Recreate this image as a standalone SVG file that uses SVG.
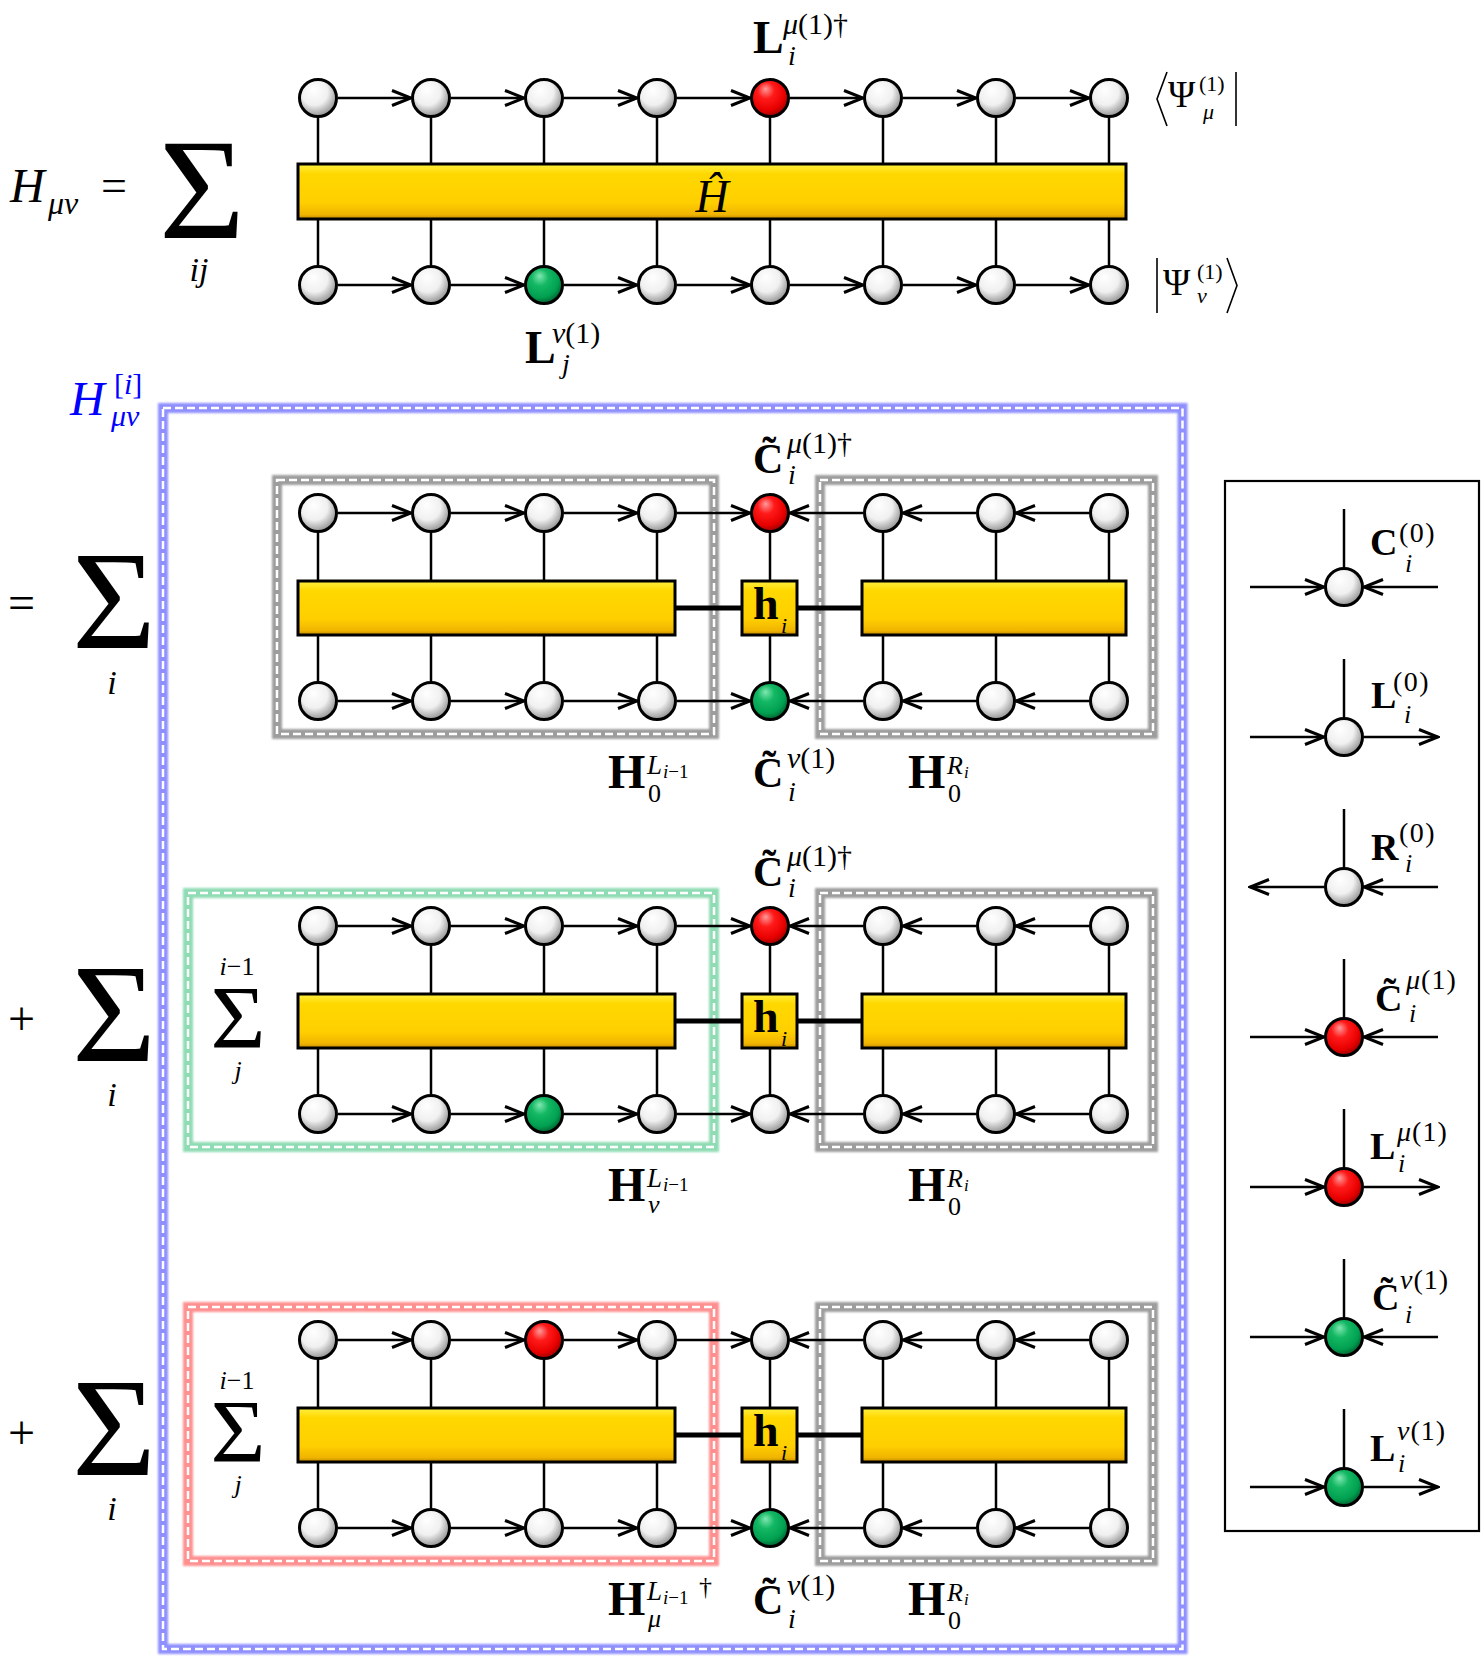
<svg xmlns="http://www.w3.org/2000/svg" width="1481" height="1664" viewBox="0 0 1481 1664">
<style>
.s{font-family:"Liberation Serif","Times New Roman",serif;fill:#000}
.b{font-weight:bold}
.i{font-style:italic}
.n{font-style:normal}
.bl{fill:#0000ff}
.nw{fill:url(#gw);stroke:#000;stroke-width:3}
.nr{fill:url(#gr);stroke:#000;stroke-width:3}
.ng{fill:url(#gg);stroke:#000;stroke-width:3}
.bar{fill:url(#gy);stroke:#000;stroke-width:3}
.ln{stroke:#000;stroke-width:2.5;fill:none}
.ar{stroke:#000;stroke-width:2.5;fill:none;marker-end:url(#ah)}
.thk{stroke:#000;stroke-width:5}
.band{fill:none;stroke-width:10;filter:url(#glow)}
.dash{fill:none;stroke:#fff;stroke-width:2.5;stroke-dasharray:8 4}
.gray{stroke:#9d9d9d}
.grn{stroke:#8fdcb4}
.red{stroke:#ff9090}
.blu{stroke:#8f8fff}
.brk{fill:none;stroke:#000;stroke-width:1.6}
</style>
<defs>
<radialGradient id="gw" cx="0.42" cy="0.38" r="0.65" fx="0.38" fy="0.28">
<stop offset="0" stop-color="#ffffff"/>
<stop offset="0.55" stop-color="#f0f0f0"/>
<stop offset="1" stop-color="#8c8c8c"/>
</radialGradient>
<radialGradient id="gr" cx="0.42" cy="0.38" r="0.65" fx="0.38" fy="0.25">
<stop offset="0" stop-color="#ff9a9a"/>
<stop offset="0.35" stop-color="#ff1a1a"/>
<stop offset="0.75" stop-color="#e80000"/>
<stop offset="1" stop-color="#900000"/>
</radialGradient>
<radialGradient id="gg" cx="0.42" cy="0.38" r="0.65" fx="0.38" fy="0.25">
<stop offset="0" stop-color="#7fe8b0"/>
<stop offset="0.35" stop-color="#14b864"/>
<stop offset="0.75" stop-color="#00a050"/>
<stop offset="1" stop-color="#005a2c"/>
</radialGradient>
<linearGradient id="gy" x1="0" y1="0" x2="0" y2="1">
<stop offset="0" stop-color="#fff040"/>
<stop offset="0.18" stop-color="#ffd800"/>
<stop offset="0.7" stop-color="#ffcf00"/>
<stop offset="0.92" stop-color="#f0b400"/>
<stop offset="1" stop-color="#c08800"/>
</linearGradient>
<filter id="glow" x="-5%" y="-5%" width="110%" height="110%">
<feGaussianBlur stdDeviation="1.3"/>
</filter>
<marker id="ah" viewBox="0 0 22 18" refX="20" refY="9" markerWidth="22" markerHeight="18" orient="auto" markerUnits="userSpaceOnUse">
<path d="M1,1.5 L20,9 L1,16.5" fill="none" stroke="#000" stroke-width="3"/>
</marker>
</defs>
<rect x="0" y="0" width="1481" height="1664" fill="#fff"/>

<!-- frames -->
<g id="frames">
<g id="frame-Hi">
<rect class="band blu" x="163" y="408" width="1019.5" height="1241"/>
<rect class="dash" x="163" y="408" width="1019.5" height="1241"/>
</g>
<g id="frame-b1-left"><rect class="band gray" x="277" y="480" width="437" height="254"/><rect class="dash" x="277" y="480" width="437" height="254"/></g>
<g id="frame-b1-right"><rect class="band gray" x="820" y="480" width="333" height="254"/><rect class="dash" x="820" y="480" width="333" height="254"/></g>
<g id="frame-b2-left"><rect class="band grn" x="188" y="893" width="526" height="254"/><rect class="dash" x="188" y="893" width="526" height="254"/></g>
<g id="frame-b2-right"><rect class="band gray" x="820" y="893" width="333" height="254"/><rect class="dash" x="820" y="893" width="333" height="254"/></g>
<g id="frame-b3-left"><rect class="band red" x="188" y="1307" width="526" height="254"/><rect class="dash" x="188" y="1307" width="526" height="254"/></g>
<g id="frame-b3-right"><rect class="band gray" x="820" y="1307" width="333" height="254"/><rect class="dash" x="820" y="1307" width="333" height="254"/></g>
<g id="legend-frame"><rect x="1225" y="481" width="254" height="1050" fill="none" stroke="#000" stroke-width="2.2"/></g>
</g>

<!-- connectors -->
<g id="connectors">
<!-- top section -->
<line class="ln" x1="318" y1="98" x2="318" y2="285"/>
<line class="ln" x1="431" y1="98" x2="431" y2="285"/>
<line class="ln" x1="544" y1="98" x2="544" y2="285"/>
<line class="ln" x1="657" y1="98" x2="657" y2="285"/>
<line class="ln" x1="770" y1="98" x2="770" y2="285"/>
<line class="ln" x1="883" y1="98" x2="883" y2="285"/>
<line class="ln" x1="996" y1="98" x2="996" y2="285"/>
<line class="ln" x1="1109" y1="98" x2="1109" y2="285"/>
<line class="ar" x1="338" y1="98" x2="411" y2="98"/>
<line class="ar" x1="451" y1="98" x2="524" y2="98"/>
<line class="ar" x1="564" y1="98" x2="637" y2="98"/>
<line class="ar" x1="677" y1="98" x2="750" y2="98"/>
<line class="ar" x1="790" y1="98" x2="863" y2="98"/>
<line class="ar" x1="903" y1="98" x2="976" y2="98"/>
<line class="ar" x1="1016" y1="98" x2="1089" y2="98"/>
<line class="ar" x1="338" y1="285" x2="411" y2="285"/>
<line class="ar" x1="451" y1="285" x2="524" y2="285"/>
<line class="ar" x1="564" y1="285" x2="637" y2="285"/>
<line class="ar" x1="677" y1="285" x2="750" y2="285"/>
<line class="ar" x1="790" y1="285" x2="863" y2="285"/>
<line class="ar" x1="903" y1="285" x2="976" y2="285"/>
<line class="ar" x1="1016" y1="285" x2="1089" y2="285"/>

<!-- block 1 (ty 513, by 701) -->
<line class="ln" x1="318" y1="513" x2="318" y2="701"/>
<line class="ln" x1="431" y1="513" x2="431" y2="701"/>
<line class="ln" x1="544" y1="513" x2="544" y2="701"/>
<line class="ln" x1="657" y1="513" x2="657" y2="701"/>
<line class="ln" x1="770" y1="513" x2="770" y2="701"/>
<line class="ln" x1="883" y1="513" x2="883" y2="701"/>
<line class="ln" x1="996" y1="513" x2="996" y2="701"/>
<line class="ln" x1="1109" y1="513" x2="1109" y2="701"/>
<line class="thk" x1="675" y1="608" x2="742" y2="608"/>
<line class="thk" x1="797" y1="608" x2="862" y2="608"/>
<line class="ar" x1="338" y1="513" x2="411" y2="513"/>
<line class="ar" x1="451" y1="513" x2="524" y2="513"/>
<line class="ar" x1="564" y1="513" x2="637" y2="513"/>
<line class="ar" x1="677" y1="513" x2="750" y2="513"/>
<line class="ar" x1="1089" y1="513" x2="1016" y2="513"/>
<line class="ar" x1="976" y1="513" x2="903" y2="513"/>
<line class="ar" x1="863" y1="513" x2="790" y2="513"/>
<line class="ar" x1="338" y1="701" x2="411" y2="701"/>
<line class="ar" x1="451" y1="701" x2="524" y2="701"/>
<line class="ar" x1="564" y1="701" x2="637" y2="701"/>
<line class="ar" x1="677" y1="701" x2="750" y2="701"/>
<line class="ar" x1="1089" y1="701" x2="1016" y2="701"/>
<line class="ar" x1="976" y1="701" x2="903" y2="701"/>
<line class="ar" x1="863" y1="701" x2="790" y2="701"/>

<!-- block 2 (ty 926, by 1114) -->
<line class="ln" x1="318" y1="926" x2="318" y2="1114"/>
<line class="ln" x1="431" y1="926" x2="431" y2="1114"/>
<line class="ln" x1="544" y1="926" x2="544" y2="1114"/>
<line class="ln" x1="657" y1="926" x2="657" y2="1114"/>
<line class="ln" x1="770" y1="926" x2="770" y2="1114"/>
<line class="ln" x1="883" y1="926" x2="883" y2="1114"/>
<line class="ln" x1="996" y1="926" x2="996" y2="1114"/>
<line class="ln" x1="1109" y1="926" x2="1109" y2="1114"/>
<line class="thk" x1="675" y1="1021" x2="742" y2="1021"/>
<line class="thk" x1="797" y1="1021" x2="862" y2="1021"/>
<line class="ar" x1="338" y1="926" x2="411" y2="926"/>
<line class="ar" x1="451" y1="926" x2="524" y2="926"/>
<line class="ar" x1="564" y1="926" x2="637" y2="926"/>
<line class="ar" x1="677" y1="926" x2="750" y2="926"/>
<line class="ar" x1="1089" y1="926" x2="1016" y2="926"/>
<line class="ar" x1="976" y1="926" x2="903" y2="926"/>
<line class="ar" x1="863" y1="926" x2="790" y2="926"/>
<line class="ar" x1="338" y1="1114" x2="411" y2="1114"/>
<line class="ar" x1="451" y1="1114" x2="524" y2="1114"/>
<line class="ar" x1="564" y1="1114" x2="637" y2="1114"/>
<line class="ar" x1="677" y1="1114" x2="750" y2="1114"/>
<line class="ar" x1="1089" y1="1114" x2="1016" y2="1114"/>
<line class="ar" x1="976" y1="1114" x2="903" y2="1114"/>
<line class="ar" x1="863" y1="1114" x2="790" y2="1114"/>

<!-- block 3 (ty 1340, by 1528) -->
<line class="ln" x1="318" y1="1340" x2="318" y2="1528"/>
<line class="ln" x1="431" y1="1340" x2="431" y2="1528"/>
<line class="ln" x1="544" y1="1340" x2="544" y2="1528"/>
<line class="ln" x1="657" y1="1340" x2="657" y2="1528"/>
<line class="ln" x1="770" y1="1340" x2="770" y2="1528"/>
<line class="ln" x1="883" y1="1340" x2="883" y2="1528"/>
<line class="ln" x1="996" y1="1340" x2="996" y2="1528"/>
<line class="ln" x1="1109" y1="1340" x2="1109" y2="1528"/>
<line class="thk" x1="675" y1="1435" x2="742" y2="1435"/>
<line class="thk" x1="797" y1="1435" x2="862" y2="1435"/>
<line class="ar" x1="338" y1="1340" x2="411" y2="1340"/>
<line class="ar" x1="451" y1="1340" x2="524" y2="1340"/>
<line class="ar" x1="564" y1="1340" x2="637" y2="1340"/>
<line class="ar" x1="677" y1="1340" x2="750" y2="1340"/>
<line class="ar" x1="1089" y1="1340" x2="1016" y2="1340"/>
<line class="ar" x1="976" y1="1340" x2="903" y2="1340"/>
<line class="ar" x1="863" y1="1340" x2="790" y2="1340"/>
<line class="ar" x1="338" y1="1528" x2="411" y2="1528"/>
<line class="ar" x1="451" y1="1528" x2="524" y2="1528"/>
<line class="ar" x1="564" y1="1528" x2="637" y2="1528"/>
<line class="ar" x1="677" y1="1528" x2="750" y2="1528"/>
<line class="ar" x1="1089" y1="1528" x2="1016" y2="1528"/>
<line class="ar" x1="976" y1="1528" x2="903" y2="1528"/>
<line class="ar" x1="863" y1="1528" x2="790" y2="1528"/>

<!-- legend -->
<line class="ln" x1="1344" y1="509" x2="1344" y2="567"/>
<line class="ar" x1="1250" y1="587" x2="1324" y2="587"/>
<line class="ar" x1="1438" y1="587" x2="1364" y2="587"/>
<line class="ln" x1="1344" y1="659" x2="1344" y2="717"/>
<line class="ar" x1="1250" y1="737" x2="1324" y2="737"/>
<line class="ar" x1="1364" y1="737" x2="1438" y2="737"/>
<line class="ln" x1="1344" y1="809" x2="1344" y2="867"/>
<line class="ar" x1="1324" y1="887" x2="1250" y2="887"/>
<line class="ar" x1="1438" y1="887" x2="1364" y2="887"/>
<line class="ln" x1="1344" y1="959" x2="1344" y2="1017"/>
<line class="ar" x1="1250" y1="1037" x2="1324" y2="1037"/>
<line class="ar" x1="1438" y1="1037" x2="1364" y2="1037"/>
<line class="ln" x1="1344" y1="1109" x2="1344" y2="1167"/>
<line class="ar" x1="1250" y1="1187" x2="1324" y2="1187"/>
<line class="ar" x1="1364" y1="1187" x2="1438" y2="1187"/>
<line class="ln" x1="1344" y1="1259" x2="1344" y2="1317"/>
<line class="ar" x1="1250" y1="1337" x2="1324" y2="1337"/>
<line class="ar" x1="1438" y1="1337" x2="1364" y2="1337"/>
<line class="ln" x1="1344" y1="1409" x2="1344" y2="1467"/>
<line class="ar" x1="1250" y1="1487" x2="1324" y2="1487"/>
<line class="ar" x1="1364" y1="1487" x2="1438" y2="1487"/>
</g>

<!-- top section nodes -->
<g id="H-hat-bar"><rect class="bar" x="298" y="164" width="828" height="55"/><text class="s i" x="712" y="212" font-size="46" text-anchor="middle">Ĥ</text></g>
<g id="top-t1"><circle class="nw" cx="318" cy="98" r="18.5"/></g>
<g id="top-t2"><circle class="nw" cx="431" cy="98" r="18.5"/></g>
<g id="top-t3"><circle class="nw" cx="544" cy="98" r="18.5"/></g>
<g id="top-t4"><circle class="nw" cx="657" cy="98" r="18.5"/></g>
<g id="top-t5"><circle class="nr" cx="770" cy="98" r="18.5"/></g>
<g id="top-t6"><circle class="nw" cx="883" cy="98" r="18.5"/></g>
<g id="top-t7"><circle class="nw" cx="996" cy="98" r="18.5"/></g>
<g id="top-t8"><circle class="nw" cx="1109" cy="98" r="18.5"/></g>
<g id="top-b1"><circle class="nw" cx="318" cy="285" r="18.5"/></g>
<g id="top-b2"><circle class="nw" cx="431" cy="285" r="18.5"/></g>
<g id="top-b3"><circle class="ng" cx="544" cy="285" r="18.5"/></g>
<g id="top-b4"><circle class="nw" cx="657" cy="285" r="18.5"/></g>
<g id="top-b5"><circle class="nw" cx="770" cy="285" r="18.5"/></g>
<g id="top-b6"><circle class="nw" cx="883" cy="285" r="18.5"/></g>
<g id="top-b7"><circle class="nw" cx="996" cy="285" r="18.5"/></g>
<g id="top-b8"><circle class="nw" cx="1109" cy="285" r="18.5"/></g>

<!-- block 1 -->
<g id="b1-barL"><rect class="bar" x="298" y="581" width="377" height="54"/></g>
<g id="b1-h"><rect class="bar" x="742" y="581" width="55" height="54"/><text class="s b" x="753" y="619" font-size="46">h</text><text class="s i" x="781" y="633" font-size="22">i</text></g>
<g id="b1-barR"><rect class="bar" x="862" y="581" width="264" height="54"/></g>
<g id="b1-t1"><circle class="nw" cx="318" cy="513" r="18.5"/></g>
<g id="b1-t2"><circle class="nw" cx="431" cy="513" r="18.5"/></g>
<g id="b1-t3"><circle class="nw" cx="544" cy="513" r="18.5"/></g>
<g id="b1-t4"><circle class="nw" cx="657" cy="513" r="18.5"/></g>
<g id="b1-t5"><circle class="nr" cx="770" cy="513" r="18.5"/></g>
<g id="b1-t6"><circle class="nw" cx="883" cy="513" r="18.5"/></g>
<g id="b1-t7"><circle class="nw" cx="996" cy="513" r="18.5"/></g>
<g id="b1-t8"><circle class="nw" cx="1109" cy="513" r="18.5"/></g>
<g id="b1-b1"><circle class="nw" cx="318" cy="701" r="18.5"/></g>
<g id="b1-b2"><circle class="nw" cx="431" cy="701" r="18.5"/></g>
<g id="b1-b3"><circle class="nw" cx="544" cy="701" r="18.5"/></g>
<g id="b1-b4"><circle class="nw" cx="657" cy="701" r="18.5"/></g>
<g id="b1-b5"><circle class="ng" cx="770" cy="701" r="18.5"/></g>
<g id="b1-b6"><circle class="nw" cx="883" cy="701" r="18.5"/></g>
<g id="b1-b7"><circle class="nw" cx="996" cy="701" r="18.5"/></g>
<g id="b1-b8"><circle class="nw" cx="1109" cy="701" r="18.5"/></g>

<!-- block 2 -->
<g id="b2-barL"><rect class="bar" x="298" y="994" width="377" height="54"/></g>
<g id="b2-h"><rect class="bar" x="742" y="994" width="55" height="54"/><text class="s b" x="753" y="1032" font-size="46">h</text><text class="s i" x="781" y="1046" font-size="22">i</text></g>
<g id="b2-barR"><rect class="bar" x="862" y="994" width="264" height="54"/></g>
<g id="b2-t1"><circle class="nw" cx="318" cy="926" r="18.5"/></g>
<g id="b2-t2"><circle class="nw" cx="431" cy="926" r="18.5"/></g>
<g id="b2-t3"><circle class="nw" cx="544" cy="926" r="18.5"/></g>
<g id="b2-t4"><circle class="nw" cx="657" cy="926" r="18.5"/></g>
<g id="b2-t5"><circle class="nr" cx="770" cy="926" r="18.5"/></g>
<g id="b2-t6"><circle class="nw" cx="883" cy="926" r="18.5"/></g>
<g id="b2-t7"><circle class="nw" cx="996" cy="926" r="18.5"/></g>
<g id="b2-t8"><circle class="nw" cx="1109" cy="926" r="18.5"/></g>
<g id="b2-b1"><circle class="nw" cx="318" cy="1114" r="18.5"/></g>
<g id="b2-b2"><circle class="nw" cx="431" cy="1114" r="18.5"/></g>
<g id="b2-b3"><circle class="ng" cx="544" cy="1114" r="18.5"/></g>
<g id="b2-b4"><circle class="nw" cx="657" cy="1114" r="18.5"/></g>
<g id="b2-b5"><circle class="nw" cx="770" cy="1114" r="18.5"/></g>
<g id="b2-b6"><circle class="nw" cx="883" cy="1114" r="18.5"/></g>
<g id="b2-b7"><circle class="nw" cx="996" cy="1114" r="18.5"/></g>
<g id="b2-b8"><circle class="nw" cx="1109" cy="1114" r="18.5"/></g>

<!-- block 3 -->
<g id="b3-barL"><rect class="bar" x="298" y="1408" width="377" height="54"/></g>
<g id="b3-h"><rect class="bar" x="742" y="1408" width="55" height="54"/><text class="s b" x="753" y="1446" font-size="46">h</text><text class="s i" x="781" y="1460" font-size="22">i</text></g>
<g id="b3-barR"><rect class="bar" x="862" y="1408" width="264" height="54"/></g>
<g id="b3-t1"><circle class="nw" cx="318" cy="1340" r="18.5"/></g>
<g id="b3-t2"><circle class="nw" cx="431" cy="1340" r="18.5"/></g>
<g id="b3-t3"><circle class="nr" cx="544" cy="1340" r="18.5"/></g>
<g id="b3-t4"><circle class="nw" cx="657" cy="1340" r="18.5"/></g>
<g id="b3-t5"><circle class="nw" cx="770" cy="1340" r="18.5"/></g>
<g id="b3-t6"><circle class="nw" cx="883" cy="1340" r="18.5"/></g>
<g id="b3-t7"><circle class="nw" cx="996" cy="1340" r="18.5"/></g>
<g id="b3-t8"><circle class="nw" cx="1109" cy="1340" r="18.5"/></g>
<g id="b3-b1"><circle class="nw" cx="318" cy="1528" r="18.5"/></g>
<g id="b3-b2"><circle class="nw" cx="431" cy="1528" r="18.5"/></g>
<g id="b3-b3"><circle class="nw" cx="544" cy="1528" r="18.5"/></g>
<g id="b3-b4"><circle class="nw" cx="657" cy="1528" r="18.5"/></g>
<g id="b3-b5"><circle class="ng" cx="770" cy="1528" r="18.5"/></g>
<g id="b3-b6"><circle class="nw" cx="883" cy="1528" r="18.5"/></g>
<g id="b3-b7"><circle class="nw" cx="996" cy="1528" r="18.5"/></g>
<g id="b3-b8"><circle class="nw" cx="1109" cy="1528" r="18.5"/></g>

<!-- legend nodes -->
<g id="lg-C0"><circle class="nw" cx="1344" cy="587" r="18.5"/>
<text class="s b" x="1370" y="555" font-size="38">C</text><text class="s" x="1399" y="542" font-size="28" letter-spacing="1.5">(0)</text><text class="s i" x="1405" y="572" font-size="26">i</text></g>
<g id="lg-L0"><circle class="nw" cx="1344" cy="737" r="18.5"/>
<text class="s b" x="1371" y="708" font-size="38">L</text><text class="s" x="1393" y="691" font-size="28" letter-spacing="1.5">(0)</text><text class="s i" x="1404" y="723" font-size="26">i</text></g>
<g id="lg-R0"><circle class="nw" cx="1344" cy="887" r="18.5"/>
<text class="s b" x="1371" y="860" font-size="38">R</text><text class="s" x="1399" y="842" font-size="28" letter-spacing="1.5">(0)</text><text class="s i" x="1405" y="872" font-size="26">i</text></g>
<g id="lg-Cmu"><circle class="nr" cx="1344" cy="1037" r="18.5"/>
<text class="s b" x="1375" y="1011" font-size="38">C̃</text><text class="s" x="1406" y="989" font-size="28" letter-spacing="1"><tspan class="i">μ</tspan>(1)</text><text class="s i" x="1409" y="1022" font-size="26">i</text></g>
<g id="lg-Lmu"><circle class="nr" cx="1344" cy="1187" r="18.5"/>
<text class="s b" x="1370" y="1159" font-size="38">L</text><text class="s" x="1397" y="1141" font-size="28" letter-spacing="1"><tspan class="i">μ</tspan>(1)</text><text class="s i" x="1398" y="1172" font-size="26">i</text></g>
<g id="lg-Cnu"><circle class="ng" cx="1344" cy="1337" r="18.5"/>
<text class="s b" x="1372" y="1310" font-size="38">C̃</text><text class="s" x="1400" y="1289" font-size="28" letter-spacing="1"><tspan class="i">ν</tspan>(1)</text><text class="s i" x="1405" y="1323" font-size="26">i</text></g>
<g id="lg-Lnu"><circle class="ng" cx="1344" cy="1487" r="18.5"/>
<text class="s b" x="1370" y="1461" font-size="38">L</text><text class="s" x="1397" y="1440" font-size="28" letter-spacing="1"><tspan class="i">ν</tspan>(1)</text><text class="s i" x="1398" y="1472" font-size="26">i</text></g>

<!-- labels -->
<g id="labels">
<!-- top equation -->
<text class="s i" x="10" y="202" font-size="48">H</text>
<text class="s i" x="48" y="214" font-size="32">μν</text>
<text class="s" x="101" y="201" font-size="46">=</text>
<text class="s" x="159" y="238" font-size="143" textLength="86" lengthAdjust="spacingAndGlyphs">Σ</text>
<text class="s i" x="199" y="281" font-size="34" text-anchor="middle">ij</text>
<text class="s b" x="753" y="53" font-size="46">L</text>
<text class="s" x="783" y="34" font-size="30"><tspan class="i">μ</tspan>(1)†</text>
<text class="s i" x="788" y="65" font-size="28">i</text>
<text class="s b" x="525" y="363" font-size="46">L</text>
<text class="s" x="552" y="343" font-size="30"><tspan class="i">ν</tspan>(1)</text>
<text class="s i" x="562" y="373" font-size="28">j</text>
<!-- bra / ket -->
<polyline class="brk" points="1167,72 1157,99 1167,126"/>
<line class="brk" x1="1236" y1="72" x2="1236" y2="126"/>
<text class="s" x="1168" y="107" font-size="37">Ψ</text>
<text class="s" x="1199" y="91" font-size="22">(1)</text>
<text class="s i" x="1203" y="119" font-size="22">μ</text>
<line class="brk" x1="1157" y1="258" x2="1157" y2="313"/>
<polyline class="brk" points="1227,258 1237,285.5 1227,313"/>
<text class="s" x="1163" y="295" font-size="37">Ψ</text>
<text class="s" x="1197" y="279" font-size="22">(1)</text>
<text class="s i" x="1197" y="303" font-size="22">ν</text>
<!-- H^[i] label -->
<text class="s i bl" x="70" y="415" font-size="48">H</text>
<text class="s bl" x="114" y="394" font-size="30">[<tspan class="i">i</tspan>]</text>
<text class="s i bl" x="111" y="426" font-size="30">μν</text>

<!-- block 1 labels -->
<text class="s" x="8" y="619" font-size="48">=</text>
<text class="s" x="72" y="648" font-size="140" textLength="84" lengthAdjust="spacingAndGlyphs">Σ</text>
<text class="s i" x="112" y="694" font-size="34" text-anchor="middle">i</text>
<text class="s b" x="753" y="473" font-size="42">C̃</text>
<text class="s" x="787" y="453" font-size="30"><tspan class="i">μ</tspan>(1)†</text>
<text class="s i" x="788" y="484" font-size="28">i</text>
<text class="s b" x="753" y="787" font-size="42">C̃</text>
<text class="s" x="787" y="768" font-size="30"><tspan class="i">ν</tspan>(1)</text>
<text class="s i" x="788" y="801" font-size="28">i</text>
<text class="s b" x="608" y="788" font-size="48">H</text>
<text class="s i" x="647" y="774" font-size="27">L</text>
<text class="s" x="663" y="778" font-size="19"><tspan class="i">i</tspan>−1</text>
<text class="s" x="648" y="802" font-size="26">0</text>
<text class="s b" x="908" y="788" font-size="48">H</text>
<text class="s i" x="947" y="774" font-size="26">R</text>
<text class="s i" x="964" y="778" font-size="17">i</text>
<text class="s" x="948" y="802" font-size="26">0</text>

<!-- block 2 labels -->
<text class="s" x="8" y="1035" font-size="48">+</text>
<text class="s" x="72" y="1061" font-size="140" textLength="84" lengthAdjust="spacingAndGlyphs">Σ</text>
<text class="s i" x="112" y="1106" font-size="34" text-anchor="middle">i</text>
<text class="s" x="237" y="975" font-size="26" text-anchor="middle"><tspan class="i">i</tspan>−1</text>
<text class="s" x="238" y="1047" font-size="89" text-anchor="middle" textLength="55" lengthAdjust="spacingAndGlyphs">Σ</text>
<text class="s i" x="238" y="1079" font-size="26" text-anchor="middle">j</text>
<text class="s b" x="753" y="886" font-size="42">C̃</text>
<text class="s" x="787" y="866" font-size="30"><tspan class="i">μ</tspan>(1)†</text>
<text class="s i" x="788" y="897" font-size="28">i</text>
<text class="s b" x="608" y="1201" font-size="48">H</text>
<text class="s i" x="647" y="1187" font-size="27">L</text>
<text class="s" x="663" y="1191" font-size="19"><tspan class="i">i</tspan>−1</text>
<text class="s i" x="648" y="1213" font-size="26">ν</text>
<text class="s b" x="908" y="1201" font-size="48">H</text>
<text class="s i" x="947" y="1187" font-size="26">R</text>
<text class="s i" x="964" y="1191" font-size="17">i</text>
<text class="s" x="948" y="1215" font-size="26">0</text>

<!-- block 3 labels -->
<text class="s" x="8" y="1449" font-size="48">+</text>
<text class="s" x="72" y="1475" font-size="140" textLength="84" lengthAdjust="spacingAndGlyphs">Σ</text>
<text class="s i" x="112" y="1520" font-size="34" text-anchor="middle">i</text>
<text class="s" x="237" y="1389" font-size="26" text-anchor="middle"><tspan class="i">i</tspan>−1</text>
<text class="s" x="238" y="1461" font-size="89" text-anchor="middle" textLength="55" lengthAdjust="spacingAndGlyphs">Σ</text>
<text class="s i" x="238" y="1493" font-size="26" text-anchor="middle">j</text>
<text class="s b" x="753" y="1614" font-size="42">C̃</text>
<text class="s" x="787" y="1595" font-size="30"><tspan class="i">ν</tspan>(1)</text>
<text class="s i" x="788" y="1628" font-size="28">i</text>
<text class="s b" x="608" y="1615" font-size="48">H</text>
<text class="s i" x="647" y="1600" font-size="27">L</text>
<text class="s" x="663" y="1604" font-size="19"><tspan class="i">i</tspan>−1</text>
<text class="s" x="699" y="1595" font-size="26">†</text>
<text class="s i" x="648" y="1627" font-size="26">μ</text>
<text class="s b" x="908" y="1615" font-size="48">H</text>
<text class="s i" x="947" y="1601" font-size="26">R</text>
<text class="s i" x="964" y="1605" font-size="17">i</text>
<text class="s" x="948" y="1629" font-size="26">0</text>
</g>
</svg>
